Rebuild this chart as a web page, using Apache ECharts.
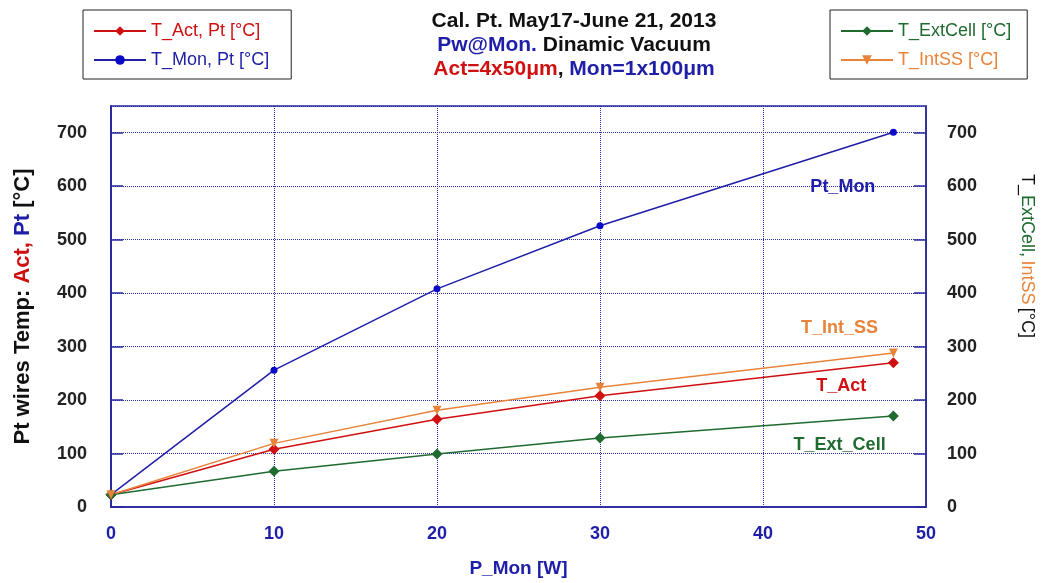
<!DOCTYPE html>
<html>
<head>
<meta charset="utf-8">
<script src="https://cdn.jsdelivr.net/npm/echarts@6/dist/echarts.min.js"></script>
<style>
  html, body { margin: 0; padding: 0; background: #fff; }
  #main { width: 1041px; height: 583px; }
</style>
</head>
<body>
<div id="main"></div>
<script>
// P_Mon [W]
var pMon = [0, 10, 20, 30, 48];
// temperatures [°C]
var tAct = [23, 108, 164, 208, 270];
var tMon = [23, 256, 408, 526, 701];
var tExtCell = [23, 67, 99, 129, 170];
var tIntSS = [23, 119, 181, 224, 288];
// series names
var names = ['T_Act, Pt [°C]', 'T_Mon, Pt [°C]', 'T_ExtCell [°C]', 'T_IntSS [°C]'];
// in-plot annotations: [text, x, y]
var notes = [
    ['Pt_Mon', 44.9, 598],
    ['T_Int_SS', 44.7, 335],
    ['T_Act', 44.8, 227],
    ['T_Ext_Cell', 44.7, 115]
];

var RED = '#d01010', BLUE = '#1e1ea8', GREEN = '#1f6b30', ORANGE = '#e8843a';
var FONT = 'Liberation Sans';

function pairs(ys) {
    return pMon.map(function (x, i) { return [x, ys[i]]; });
}
function note(i, color) {
    return {
        symbol: 'circle', symbolSize: 0,
        label: { show: true, position: 'inside', color: color, fontWeight: 'bold', fontSize: 18, fontFamily: FONT, formatter: notes[i][0] },
        data: [{ coord: [notes[i][1], notes[i][2]] }]
    };
}

var myChart = echarts.init(document.getElementById('main'));
myChart.setOption({
    animation: false,
    textStyle: { fontFamily: FONT },
    title: {
        left: 569, top: 4, textAlign: 'center',
        text: '{k|Cal. Pt. May17-June 21, 2013}\n{b|Pw@Mon.}{k| Dinamic Vacuum}\n{r|Act=4x50μm}{k|, }{b|Mon=1x100μm}',
        textStyle: {
            rich: {
                k: { color: '#111', fontWeight: 'bold', fontSize: 21, lineHeight: 24, fontFamily: FONT },
                b: { color: BLUE, fontWeight: 'bold', fontSize: 21, lineHeight: 24, fontFamily: FONT },
                r: { color: RED, fontWeight: 'bold', fontSize: 21, lineHeight: 24, fontFamily: FONT }
            }
        }
    },
    legend: [{
        left: 83, top: 10, orient: 'vertical',
        borderColor: '#222', borderWidth: 1, padding: [12, 22, 10, 10],
        itemWidth: 52, itemHeight: 12, itemGap: 11,
        textStyle: { fontSize: 18, fontFamily: FONT },
        data: [
            { name: names[0], textStyle: { color: RED } },
            { name: names[1], textStyle: { color: BLUE } }
        ]
    }, {
        left: 830, top: 10, orient: 'vertical',
        borderColor: '#222', borderWidth: 1, padding: [12, 16, 10, 10],
        itemWidth: 52, itemHeight: 12, itemGap: 11,
        textStyle: { fontSize: 18, fontFamily: FONT },
        data: [
            { name: names[2], textStyle: { color: GREEN } },
            { name: names[3], textStyle: { color: ORANGE } }
        ]
    }],
    grid: {
        left: 111, right: 115, top: 106, bottom: 68,
        show: true, borderColor: '#2a2a9c', borderWidth: 1.5
    },
    xAxis: {
        type: 'value', min: 0, max: 50, interval: 10,
        name: 'P_Mon [W]', nameLocation: 'middle', nameGap: 52,
        nameTextStyle: { color: BLUE, fontWeight: 'bold', fontSize: 19, fontFamily: FONT },
        axisLine: { lineStyle: { color: '#2a2a9c', width: 1.5 } },
        axisTick: { show: false },
        axisLabel: { color: BLUE, fontWeight: 'bold', fontSize: 18, margin: 18, fontFamily: FONT },
        splitLine: { show: true, lineStyle: { color: '#2a2aa8', type: 'dotted', width: 1 } }
    },
    yAxis: [{
        type: 'value', min: 0, max: 750, interval: 100, position: 'left',
        name: '{k|Pt wires Temp: }{r|Act,}{k| }{b|Pt}{k| [°C]}',
        nameLocation: 'middle', nameGap: 77,
        nameTextStyle: {
            rich: {
                k: { color: '#111', fontWeight: 'bold', fontSize: 22, fontFamily: FONT },
                r: { color: RED, fontWeight: 'bold', fontSize: 22, fontFamily: FONT },
                b: { color: BLUE, fontWeight: 'bold', fontSize: 22, fontFamily: FONT }
            }
        },
        axisLine: { show: true, lineStyle: { color: '#2a2a9c', width: 2 } },
        axisTick: { show: true, inside: true, length: 12, lineStyle: { color: '#2a2a9c', width: 1.5 } },
        axisLabel: { color: '#222', fontWeight: 'bold', fontSize: 18, margin: 24, showMaxLabel: false, fontFamily: FONT },
        splitLine: { show: true, lineStyle: { color: '#2a2aa8', type: 'dotted', width: 1 } }
    }, {
        type: 'value', min: 0, max: 750, interval: 100, position: 'right',
        axisLine: { show: true, lineStyle: { color: '#2a2a9c', width: 1.5 } },
        axisTick: { show: true, inside: true, length: 12, lineStyle: { color: '#2a2a9c', width: 1.5 } },
        axisLabel: { color: '#222', fontWeight: 'bold', fontSize: 18, margin: 21, showMaxLabel: false, fontFamily: FONT },
        splitLine: { show: false }
    }],
    graphic: [{
        type: 'text', x: 1027, y: 256, rotation: -Math.PI / 2,
        style: {
            text: '{k|T_}{g|ExtCell,} {o|IntSS} {k|[°C]}',
            align: 'center', verticalAlign: 'middle',
            rich: {
                k: { fill: '#111', fontSize: 18, fontFamily: FONT },
                g: { fill: GREEN, fontSize: 18, fontFamily: FONT },
                o: { fill: ORANGE, fontSize: 18, fontFamily: FONT }
            }
        }
    }],
    series: [{
        name: names[0], type: 'line', yAxisIndex: 0, data: pairs(tAct),
        symbol: 'diamond', symbolSize: 11,
        lineStyle: { color: RED, width: 1.5 }, itemStyle: { color: RED },
        markPoint: note(2, RED)
    }, {
        name: names[1], type: 'line', yAxisIndex: 0, data: pairs(tMon),
        symbol: 'circle', symbolSize: 7,
        lineStyle: { color: BLUE, width: 1.5 }, itemStyle: { color: '#0a0ac8' },
        markPoint: note(0, BLUE)
    }, {
        name: names[2], type: 'line', yAxisIndex: 1, data: pairs(tExtCell),
        symbol: 'diamond', symbolSize: 11,
        lineStyle: { color: GREEN, width: 1.5 }, itemStyle: { color: GREEN },
        markPoint: note(3, GREEN)
    }, {
        name: names[3], type: 'line', yAxisIndex: 1, data: pairs(tIntSS),
        symbol: 'triangle', symbolRotate: 180, symbolSize: 9,
        lineStyle: { color: ORANGE, width: 1.5 }, itemStyle: { color: ORANGE },
        markPoint: note(1, ORANGE)
    }]
});
</script>
</body>
</html>
